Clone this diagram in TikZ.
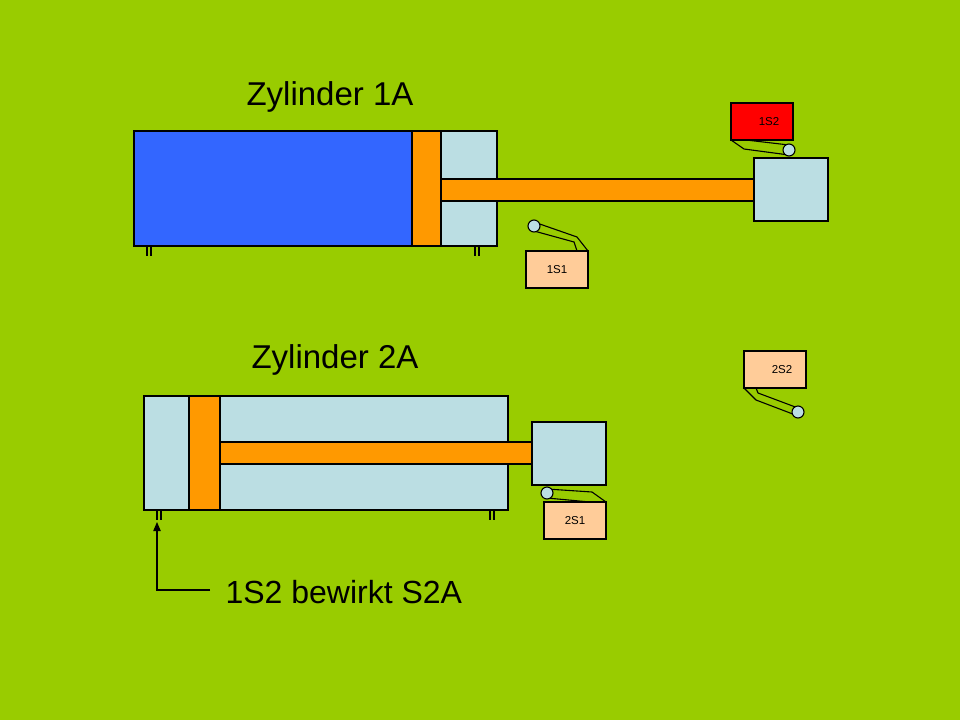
\documentclass[tikz,border=0pt]{standalone}
\usepackage{fontspec}
\setmainfont{Liberation Sans}
\usetikzlibrary{arrows, positioning}
\definecolor{bg}{HTML}{99CC00}
\definecolor{lblue}{HTML}{BBDEE3}
\definecolor{cblue}{HTML}{3366FF}
\definecolor{orng}{HTML}{FF9900}
\definecolor{peach}{HTML}{FFCC99}
\tikzset{part/.style={draw,line width=1.1pt},
  sensor/.style={draw,line width=1.1pt,fill=peach,minimum width=62pt,minimum height=37pt,inner sep=0pt,font=\fontsize{11.5}{12}\selectfont},
  roller/.style={circle,draw,fill=lblue,minimum size=12pt,inner sep=0pt,line width=1.1pt},
  title/.style={font=\fontsize{33}{33}\selectfont}}
\begin{document}
\begin{tikzpicture}[x=1pt,y=-1pt,line width=1.1pt]
       \fill[bg] (0,0) rectangle (960,720);
       \useasboundingbox (0,0) rectangle (960,720);
       % Zylinder 1A
       \node[title] (t1) at (330,97) {Zylinder 1A};
       \draw[part,fill=lblue] (134,131) rectangle (497,246);
       \draw[line width=1.8pt,fill=cblue] (134,131) rectangle (412,246);
       \draw[part,fill=orng] (412,131) rectangle (441,246);
       \draw[part,fill=orng] (441,179) rectangle (755,201);
       \draw[part,fill=lblue] (754,158) rectangle (828,221);
       \foreach \x in {147,151,475,479} \draw (\x,246) -- (\x,256);
       % Zylinder 2A
       \node[title] (t2) at (335,360) {Zylinder 2A};
       \draw[part,fill=lblue] (144,396) rectangle (508,510);
       \draw[part,fill=orng] (189,396) rectangle (220,510);
       \draw[part,fill=orng] (220,442) rectangle (533,464);
       \draw[part,fill=lblue] (532,422) rectangle (606,485);
       \foreach \x in {157,161,490,494} \draw (\x,510) -- (\x,520);
       % Endschalter
       \node[sensor,fill=red] (s12) at (762,121.5) {\hspace{14pt}1S2};
       \draw (731,140) -- (744,149) -- (789,155) (746,140) -- (789,145);
       \node[roller] (r12) at (789,150) {};
       \node[sensor] (s11) at (557,269.5) {1S1};
       \draw (534,222) -- (577,237) -- (588,251) (534,231) -- (574,242) -- (577,251);
       \node[roller] (r11) at (534,226) {};
       \node[sensor] (s21) at (575,520.5) {2S1};
       \draw (547,489) -- (592,492) -- (606,502) (547,498) -- (590,502);
       \node[roller] (r21) at (547,493) {};
       \node[sensor] (s22) at (775,369.5) {\hspace{14pt}2S2};
       \draw (744,388) -- (756,400) -- (798,416) (756,388) -- (758,393) -- (798,408);
       \node[roller] (r22) at (798,412) {};
       % Hinweis
       \node[title,anchor=west,inner sep=0pt,font=\fontsize{32}{32}\selectfont] (note) at (225,592) {1S2 bewirkt S2A};
       \coordinate (foot) at (157,522);
       \draw[-triangle 45] (210,590) -- (157,590) -- (foot);
\end{tikzpicture}
\end{document}
